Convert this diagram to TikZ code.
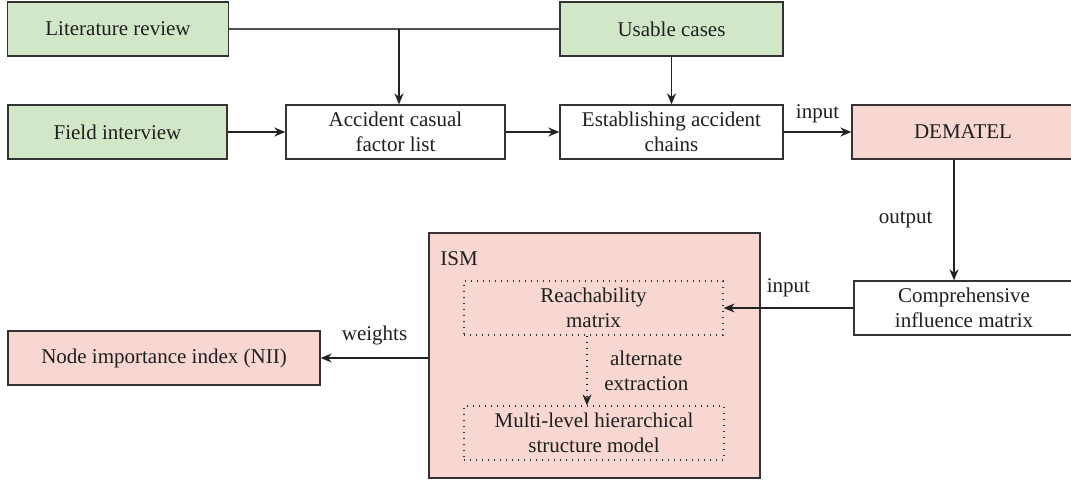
\documentclass[tikz,border=0pt]{standalone}
\usepackage{fontspec}
\setmainfont{Liberation Serif}
\usepackage{xcolor}
\usepackage{tikz}
\usetikzlibrary{arrows.meta, calc}

\definecolor{boxgreen}{HTML}{D2E7C8}
\definecolor{boxpink}{HTML}{F8D6D1}
\definecolor{edgegray}{HTML}{333333}
\definecolor{linkgray}{HTML}{222222}

\begin{document}
\begin{tikzpicture}[
            x=0.5pt, y=-0.5pt,
            font=\fontsize{10.5}{12.5}\selectfont,
            >={Stealth[length=5.5pt, width=4.5pt]},
            every node/.style={align=center, text=black!88},
            box/.style={draw=edgegray, line width=0.65pt, rectangle, inner sep=0pt, minimum height=27pt},
            greenbox/.style={box, fill=boxgreen},
            pinkbox/.style={box, fill=boxpink},
            plainbox/.style={box, fill=white},
            dotbox/.style={draw=edgegray, line width=0.6pt, dash pattern=on 0.7pt off 2.3pt, inner sep=0pt, minimum height=27pt},
            link/.style={->, line width=0.85pt, draw=linkgray}
        ]

        % Page frame (pixel grid of the reference)
        \useasboundingbox (0,0) rectangle (1071,481);

        % --- Row: Sources ---
        \node[greenbox, minimum width=110.5pt] (lit) at (118,29) {Literature review};
        \node[greenbox, minimum width=111.5pt] (usable) at (671.5,29) {Usable cases};
        \node[greenbox, minimum width=109.5pt] (field) at (117.5,132) {Field interview};

        % --- Row: Processing ---
        \node[plainbox, minimum width=109.5pt] (factors) at (395.5,132) {Accident casual\\factor list};
        \node[plainbox, minimum width=111.5pt] (chains) at (671.5,132) {Establishing accident\\chains};
        \node[pinkbox, minimum width=111pt] (dematel) at (963,132) {DEMATEL};
        \node[plainbox, minimum width=110pt] (cim) at (964,308) {Comprehensive\\influence matrix};

        % --- ISM block ---
        \node[pinkbox, minimum width=165.5pt, minimum height=122.5pt] (ism) at (594.5,355.5) {};
        \node[anchor=west, inner sep=0pt] (ismtitle) at (440,259) {ISM};
        \node[dotbox, minimum width=129.5pt] (reach) at (593.5,308) {Reachability\\matrix};
        \node[dotbox, minimum width=130pt] (multi) at (594,433) {Multi-level hierarchical\\structure model};

        % --- Result ---
        \node[pinkbox, minimum width=156pt] (nii) at (164,358) {Node importance index (NII)};

        % Connectors
        \coordinate (split) at (399,29);
        \draw[line width=0.65pt, edgegray!85] (lit) -- (usable);
        \draw[link] (split) -- (split |- factors.north);
        \draw[link] (usable) -- (chains);
        \draw[link] (field) -- (factors);
        \draw[link] (factors) -- (chains);
        \draw[link] (chains) -- (dematel) node[midway, above=1pt] {input};
        \draw[link] ([xshift=-4.5pt]dematel.south) -- ([xshift=-4.5pt]dematel.south |- cim.north) node[midway, left=7pt] {output};
        \draw[link, line width=0.65pt] (cim) -- (reach) node[midway, above=2pt] {input};
        \draw[->, line width=0.6pt, linkgray, dash pattern=on 0.7pt off 2.3pt] ([xshift=-3.25pt]reach.south) -- ([xshift=-3.25pt]reach.south |- multi.north) node[midway, right=5pt] {alternate\\extraction};
        \draw[link, line width=0.65pt] (ism.west |- nii.east) -- (nii.east) node[midway, above=3pt] {weights};

\end{tikzpicture}
\end{document}
